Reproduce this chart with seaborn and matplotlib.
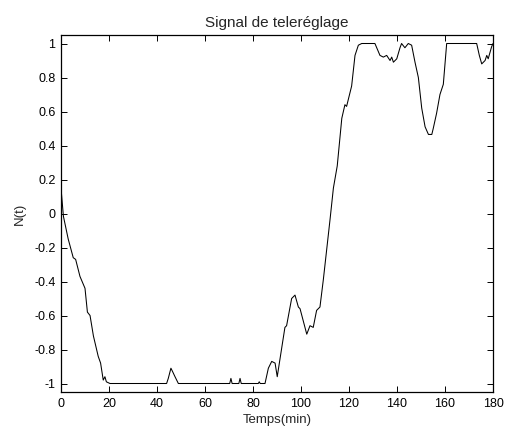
import matplotlib
matplotlib.use("Agg")
import matplotlib.pyplot as plt
import seaborn as sns
import pandas as pd

# Data
temps = [0, 1.0, 3.0, 5.1, 6.1, 7.9, 10.0, 11.0, 12.1, 13.5, 15.5, 16.5, 17.6, 18.3, 18.9, 20.4,
         44.0, 44.7, 45.8, 46.5, 47.5, 48.9, 70.3, 70.8, 71.3, 74.1, 74.6, 75.1, 82.2, 82.6, 83.0,
         85.0, 86.4, 87.8, 89.2, 90.1, 91.2, 93.3, 94.0, 96.1, 97.5, 98.9, 99.6, 102.4, 103.75,
         105.1, 106.5, 107.9, 109.3, 112.1, 113.5, 115.1, 117.0, 118.3, 119.0, 120.4, 121.1,
         122.5, 123.9, 125.3, 130.8, 131.4, 132.9, 134.3, 135.7, 137.1, 137.8, 138.5, 139.9,
         141.25, 141.9, 143.3, 144.7, 146.1, 147.5, 148.9, 150.3, 151.7, 153.1, 154.5, 155.1,
         156.5, 157.9, 159.3, 160.7, 173.2, 174.3, 175.3, 176.7, 177.4, 178.0, 179.4, 180.0]
signal = [0.15, -0.016, -0.15, -0.26, -0.27, -0.37, -0.44, -0.58, -0.60, -0.72, -0.84, -0.88,
          -0.98, -0.96, -0.99, -1.0,
          -1.0, -0.97, -0.91, -0.93, -0.96, -1.0, -1.0, -0.97, -1.0, -1.0, -0.97, -1.0, -1.0,
          -0.99, -1.0,
          -1.0, -0.91, -0.87, -0.88, -0.96, -0.86, -0.67, -0.66, -0.50, -0.48, -0.55, -0.56,
          -0.71, -0.66, -0.67, -0.57, -0.55, -0.39, -0.035, 0.15, 0.28, 0.56, 0.64, 0.63, 0.71,
          0.75, 0.93, 0.99, 1.0, 1.0, 0.98, 0.93, 0.92, 0.93, 0.90, 0.92, 0.89, 0.91, 0.975,
          1.0, 0.975, 1.0, 0.99, 0.89, 0.80, 0.62, 0.51, 0.465, 0.465, 0.50, 0.59, 0.70, 0.76,
          1.0, 1.0, 0.93, 0.88, 0.90, 0.93, 0.91, 0.98, 1.0]
xticks = [0, 20, 40, 60, 80, 100, 120, 140, 160, 180]
yticks = [-1, -0.8, -0.6, -0.4, -0.2, 0, 0.2, 0.4, 0.6, 0.8, 1]
ytick_labels = ["-1", "-0.8", "-0.6", "-0.4", "-0.2", "0", "0.2", "0.4", "0.6", "0.8", "1"]

sns.set_style("ticks")
plt.rcParams["font.family"] = ["Liberation Sans", "DejaVu Sans"]

df = pd.DataFrame({"Temps": temps, "N": signal})

fig = plt.figure(figsize=(5.05, 4.29), dpi=100)
ax = fig.add_axes([61 / 505, (429 - 392) / 429, 432 / 505, 357 / 429])
sns.lineplot(data=df, x="Temps", y="N", ax=ax, color="black", linewidth=0.75)

ax.set_xlim(0, 180)
ax.set_ylim(-1.05, 1.05)
ax.set_xticks(xticks)
ax.set_yticks(yticks)
ax.set_yticklabels(ytick_labels)
ax.tick_params(direction="in", top=True, right=True, length=4, width=0.7,
               labelsize=9, colors="black", pad=4)
for s in ax.spines.values():
    s.set_visible(True)
    s.set_linewidth(0.9)
    s.set_color("black")
ax.set_xlabel("Temps(min)", fontsize=9.5, labelpad=3)
ax.set_ylabel("N(t)", fontsize=9.5, labelpad=6)
ax.set_title("Signal de teleréglage", fontsize=11, pad=6)

fig.savefig("out.png", dpi=100)
